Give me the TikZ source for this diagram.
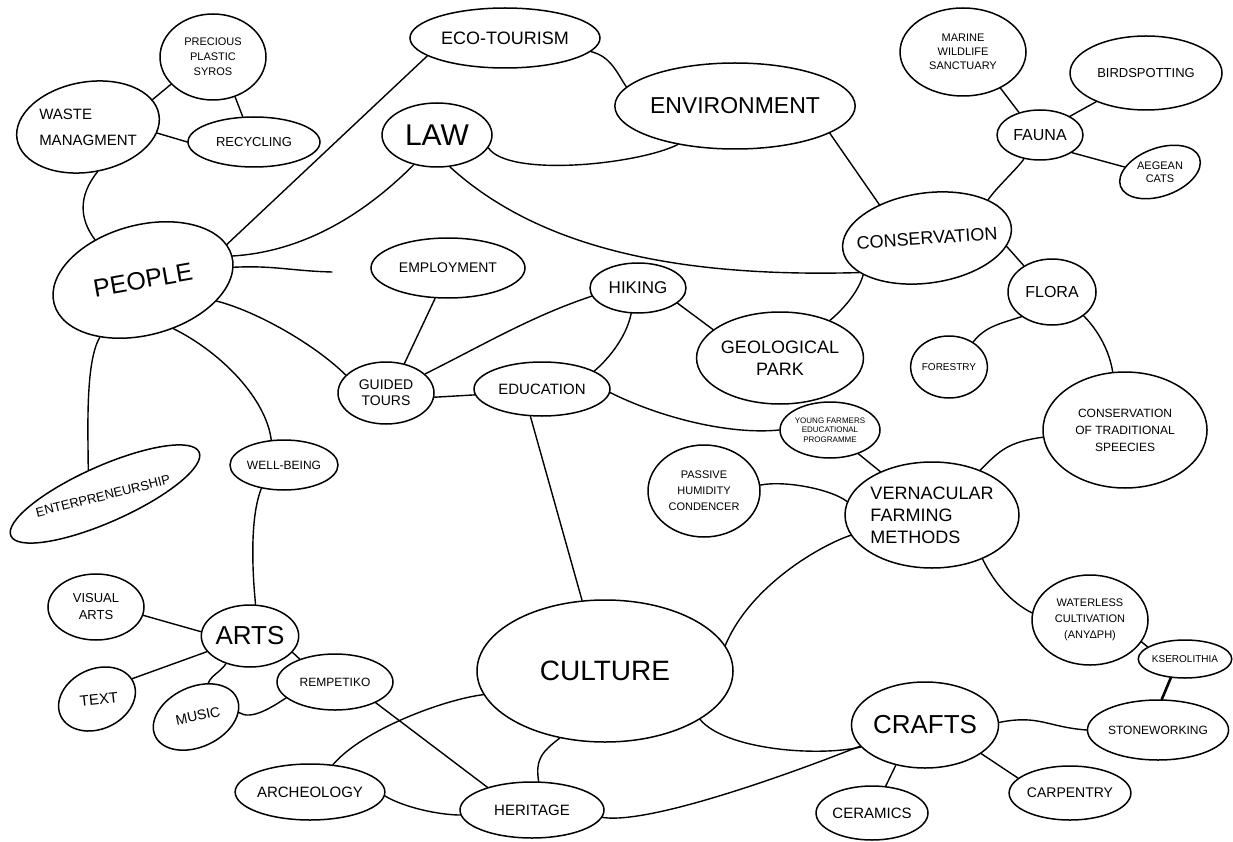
\documentclass[tikz,border=0pt]{standalone}
\usepackage{fontspec}
\setmainfont{Liberation Sans}
\usetikzlibrary{shapes.geometric}
\newcommand\fz[2]{\fontsize{#1}{#2}\selectfont}
\begin{document}
\begin{tikzpicture}[x=1pt,y=-1pt,
  bub/.style={draw, ellipse, line width=1.5pt, inner sep=0pt, align=center},
  lbl/.style={inner sep=0pt, align=center},
  con/.style={line width=1.4pt, line cap=round},
]
\fill[white] (0,0) rectangle (1233,842);
\useasboundingbox (0,0) rectangle (1233,842);

\node[bub, minimum width=106pt, minimum height=86pt, font=\fz{11}{15}] (pps) at (213,57) {PRECIOUS\\PLASTIC\\SYROS};
\node[bub, minimum width=144pt, minimum height=90pt, rotate=10] (waste) at (88,127) {};
\node[lbl, align=left, font=\fz{15}{26}] (wastel) at (88,127) {WASTE\\MANAGMENT};
\node[bub, minimum width=132pt, minimum height=50pt, font=\fz{13}{15}] (recy) at (254,142) {RECYCLING};
\node[bub, minimum width=190pt, minimum height=60pt, font=\fz{18}{20}] (eco) at (505,38) {ECO-TOURISM};
\node[bub, minimum width=206pt, minimum height=86pt, font=\fz{23}{26}] (env) at (735,106) {ENVIRONMENT};
\node[bub, minimum width=110pt, minimum height=64pt, font=\fz{30}{32}] (law) at (437,135) {LAW};
\node[bub, minimum width=184pt, minimum height=110pt, rotate=15] (people) at (143,280) {};
\node[lbl, rotate=10, font=\fz{25}{28}] (peoplel) at (143,280) {PEOPLE};
\node[bub, minimum width=154pt, minimum height=60pt, font=\fz{14}{16}] (empl) at (448,268) {EMPLOYMENT};
\node[bub, minimum width=96pt, minimum height=50pt, font=\fz{17}{19}] (hiking) at (638,288) {HIKING};
\node[bub, minimum width=156pt, minimum height=92pt, font=\fz{18}{22}] (geo) at (780,358) {GEOLOGICAL\\PARK};
\node[bub, minimum width=96pt, minimum height=62pt, font=\fz{14}{16}] (guided) at (386,393) {GUIDED\\TOURS};
\node[bub, minimum width=136pt, minimum height=54pt, font=\fz{15}{17}] (edu) at (542,389) {EDUCATION};
\node[bub, minimum width=170pt, minimum height=90pt, rotate=8] (cons) at (927,238) {};
\node[lbl, rotate=4, font=\fz{18}{20}] (consl) at (927,238) {CONSERVATION};
\node[bub, minimum width=86pt, minimum height=50pt, font=\fz{16}{18}] (fauna) at (1040,135) {FAUNA};
\node[bub, minimum width=126pt, minimum height=88pt, font=\fz{11}{14}] (marine) at (963,52) {MARINE\\WILDLIFE\\SANCTUARY};
\node[bub, minimum width=152pt, minimum height=74pt, font=\fz{13}{15}] (bird) at (1146,73) {BIRDSPOTTING};
\node[bub, minimum width=84pt, minimum height=48pt, rotate=20] (cats) at (1160,172) {};
\node[lbl, font=\fz{11}{13}] (catsl) at (1160,172) {AEGEAN\\CATS};
\node[bub, minimum width=88pt, minimum height=66pt, font=\fz{16}{18}] (flora) at (1052,292) {FLORA};
\node[bub, minimum width=74pt, minimum height=62pt, font=\fz{10}{12}] (forestry) at (949,367) {FORESTRY};
\node[bub, minimum width=164pt, minimum height=116pt, font=\fz{12}{17}] (cts) at (1125,430) {CONSERVATION\\OF TRADITIONAL\\SPEECIES};
\node[bub, minimum width=166pt, minimum height=106pt, align=left, font=\fz{18}{22}] (vern) at (932,515) {VERNACULAR\\FARMING\\METHODS};
\node[bub, minimum width=100pt, minimum height=56pt, font=\fz{8}{9.5}] (young) at (830,430) {YOUNG FARMERS\\EDUCATIONAL\\PROGRAMME};
\node[bub, minimum width=112pt, minimum height=92pt, font=\fz{11}{16}] (passive) at (704,491) {PASSIVE\\HUMIDITY\\CONDENCER};
\node[bub, minimum width=116pt, minimum height=90pt, font=\fz{11}{16}] (waterless) at (1090,620) {WATERLESS\\CULTIVATION\\(ΑΝΥΔΡΗ)};
\node[bub, minimum width=86pt, minimum height=38pt, font=\fz{10}{12}] (kser) at (1185,659) {KSEROLITHIA};
\node[bub, minimum width=126pt, minimum height=60pt, font=\fz{12}{14}] (stone) at (1158,730) {STONEWORKING};
\node[bub, minimum width=116pt, minimum height=86pt, font=\fz{26}{28}] (crafts) at (925,725) {CRAFTS};
\node[bub, minimum width=116pt, minimum height=54pt, font=\fz{14}{16}] (carp) at (1070,793) {CARPENTRY};
\node[bub, minimum width=104pt, minimum height=54pt, font=\fz{15}{17}] (cer) at (872,813) {CERAMICS};
\node[bub, minimum width=256pt, minimum height=142pt, font=\fz{28}{30}] (culture) at (605,671) {CULTURE};
\node[bub, minimum width=144pt, minimum height=56pt, font=\fz{15}{17}] (heritage) at (532,810) {HERITAGE};
\node[bub, minimum width=136pt, minimum height=56pt, font=\fz{15}{17}] (arch) at (310,792) {ARCHEOLOGY};
\node[bub, minimum width=116pt, minimum height=56pt, font=\fz{12}{14}] (remp) at (335,682) {REMPETIKO};
\node[bub, minimum width=90pt, minimum height=60pt, rotate=25] (music) at (196,717) {};
\node[lbl, rotate=12, font=\fz{14}{16}] (musicl) at (198,716) {MUSIC};
\node[bub, minimum width=80pt, minimum height=60pt, rotate=25] (txt) at (97,699) {};
\node[lbl, rotate=6, font=\fz{15}{17}] (txtl) at (99,699) {TEXT};
\node[bub, minimum width=96pt, minimum height=66pt, font=\fz{13}{17}] (visual) at (96,607) {VISUAL\\ARTS};
\node[bub, minimum width=94pt, minimum height=62pt, font=\fz{26}{28}] (arts) at (250,636) {ARTS};
\node[bub, minimum width=108pt, minimum height=50pt, font=\fz{12}{14}] (well) at (284,465) {WELL-BEING};
\node[bub, minimum width=206pt, minimum height=56pt, rotate=24] (entre) at (105,494) {};
\node[lbl, rotate=14, font=\fz{13}{15}] (entrel) at (103,496) {ENTERPRENEURSHIP};
\coordinate (pend) at (332,272);

\draw[con] (waste.13) -- (pps.213);
\draw[con] (waste.-15) -- (recy.180);
\draw[con] (pps.-61) -- (recy.114);
\draw[con] (waste.-88) .. controls +(-20,25) and +(-15,-20) .. (people.125);
\draw[con] (people.8) -- (eco.193);
\draw[con] (people.0) .. controls +(80,-5) and +(-40,40) .. (law.232);
\draw[con] (people.-7) .. controls +(40,-2) and +(-40,-1) .. (pend);
\draw[con] (people.-31) .. controls +(40,10) and +(-30,-30) .. (guided.156);
\draw[con] (people.-142) .. controls +(-15,25) and +(0,-35) .. (entre.101);
\draw[con] (people.-73) .. controls +(50,25) and +(-5,-40) .. (well.117);
\draw[con] (well.226) .. controls +(-12,30) and +(-3,-30) .. (arts.80);
\draw[con] (eco.-9) .. controls +(20,5) and +(-10,-15) .. (env.170);
\draw[con] (law.-14) .. controls +(20,30) and +(-40,20) .. (env.214);
\draw[con] (law.-68) .. controls +(90,82) and +(-180,5) .. (cons.199);
\draw[con] (env.-16) -- (cons.137);
\draw[con] (cons.24) .. controls +(8,-12) and +(-5,8) .. (fauna.236);
\draw[con] (fauna.133) -- (marine.-44);
\draw[con] (fauna.32) -- (bird.210);
\draw[con] (fauna.-29) -- (cats.152);
\draw[con] (cons.-14) -- (flora.137);
\draw[con] (cons.202) .. controls +(-5,18) and +(12,-10) .. (geo.37);
\draw[con] (flora.219) .. controls +(-25,8) and +(12,-15) .. (forestry.46);
\draw[con] (flora.-37) .. controls +(15,15) and +(-3,-20) .. (cts.102);
\draw[con] (cts.185) .. controls +(-35,5) and +(20,-20) .. (vern.43);
\draw[con] (young.-40) -- (vern.140);
\draw[con] (edu.-3) .. controls +(50,25) and +(-50,5) .. (young.180);
\draw[con] (passive.6) .. controls +(25,-5) and +(-15,-12) .. (vern.171);
\draw[con] (vern.-41) .. controls +(12,25) and +(-20,-10) .. (waterless.173);
\draw[con] (waterless.-23) -- (kser.162);
\draw[con, line width=2.6pt] (kser.233) -- (stone.83);
\draw[con] (crafts.2) .. controls +(40,-8) and +(-40,-3) .. (stone.180);
\draw[con] (crafts.-27) -- (carp.164);
\draw[con] (crafts.234) -- (cer.63);
\draw[con] (culture.12) .. controls +(25,-60) and +(-30,10) .. (vern.194);
\draw[con] (culture.-27) .. controls +(25,30) and +(-45,10) .. (crafts.199);
\draw[con] (heritage.-6) .. controls +(50,8) and +(-50,20) .. (crafts.198);
\draw[con] (culture.236) .. controls +(-20,15) and +(-3,-20) .. (heritage.77);
\draw[con] (culture.191) .. controls +(-40,5) and +(30,-35) .. (arch.50);
\draw[con] (remp.-27) -- (heritage.153);
\draw[con] (arch.-3) .. controls +(20,12) and +(-20,0) .. (heritage.184);
\draw[con] (edu.247) -- (culture.108);
\draw[con] (guided.-5) -- (edu.185);
\draw[con] (guided.26) .. controls +(60,-30) and +(-60,20) .. (hiking.190);
\draw[con] (guided.58) -- (empl.247);
\draw[con] (hiking.255) .. controls +(-5,25) and +(12,-10) .. (edu.19);
\draw[con] (hiking.-21) -- (geo.157);
\draw[con] (visual.-10) -- (arts.175);
\draw[con] (txt.5) -- (arts.200);
\draw[con] (arts.229) .. controls +(-5,8) and +(3,-8) .. (music.45);
\draw[con] (arts.-21) -- (remp.147);
\draw[con] (music.-19) .. controls +(12,8) and +(-15,10) .. (remp.198);
\end{tikzpicture}
\end{document}
